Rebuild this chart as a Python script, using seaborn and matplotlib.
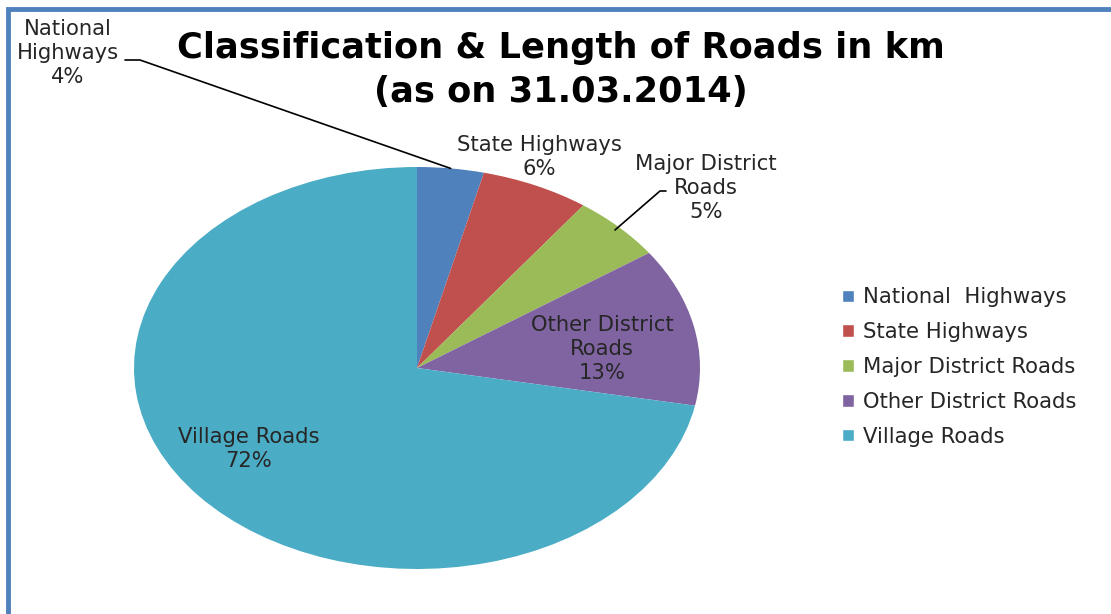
import matplotlib
matplotlib.use("Agg")
import numpy as np
import matplotlib.pyplot as plt
import seaborn as sns
from matplotlib.patches import Rectangle

# data (shares in %)
categories = ["National  Highways", "State Highways", "Major District Roads",
              "Other District Roads", "Village Roads"]
shares = [3.8, 6.2, 5.3, 12.7, 72.0]
pct_labels = ["4%", "6%", "5%", "13%", "72%"]
slice_names = ["National\nHighways", "State Highways", "Major District\nRoads",
               "Other District\nRoads", "Village Roads"]
colors = ["#4F81BD", "#C0504D", "#9BBB59", "#8064A2", "#4BACC6"]

sns.set_style("white")
plt.rcParams["font.family"] = ["DejaVu Sans"]

fig = plt.figure(figsize=(11.11, 6.14), dpi=100)
fig.patch.set_facecolor("white")

# blue frame (only top and left visible)
fig.patches.append(Rectangle((7.5 / 1111, -0.2), 1.3, 1.2 - 9.5 / 614,
                             transform=fig.transFigure, fill=False,
                             edgecolor="#4F81BD", linewidth=3.5, zorder=0))

# pie axes stretched horizontally like the original
ax = fig.add_axes([134 / 1111, 45 / 614, 566 / 1111, 402 / 614])
wedges, _ = ax.pie(shares, colors=colors, startangle=90, counterclock=False,
                   wedgeprops=dict(linewidth=0))
ax.set_aspect("auto")
ax.set_xlim(-1, 1)
ax.set_ylim(-1, 1)
ax.axis("off")


def px(x, y):
    return ((x - 417) / 283, (368 - y) / 201)


txt = dict(fontsize=15.2, color="#262626", ha="center", va="center",
           linespacing=1.24, clip_on=False)

label_pos = [px(68, 53), px(539, 157), px(706, 188), px(602, 349), px(249, 449)]
for name, pct, (lx, ly) in zip(slice_names, pct_labels, label_pos):
    ax.text(lx, ly, f"{name}\n{pct}", **txt)

# leader lines
for i, knee, end, r in [(0, px(140, 60), px(125, 60), 1.0),
                        (2, px(660, 191), px(666, 191), 0.98)]:
    w = wedges[i]
    a = np.deg2rad((w.theta1 + w.theta2) / 2)
    pts = [end, knee, (r * np.cos(a), r * np.sin(a))]
    ax.plot([p[0] for p in pts], [p[1] for p in pts], color="black",
            linewidth=1.2, clip_on=False)

fig.text(560.5 / 1111, 1 - 70 / 614,
         "Classification & Length of Roads in km\n(as on 31.03.2014)",
         ha="center", va="center", fontsize=25.4, fontweight="bold",
         color="black", linespacing=1.37)

handles = [Rectangle((0, 0), 1, 1, facecolor=c) for c in colors]
fig.legend(handles, categories, loc="center left",
           bbox_to_anchor=(823 / 1111, 1 - 367 / 614), frameon=False,
           fontsize=15.2, handlelength=0.55, handleheight=0.55,
           handletextpad=0.45, labelspacing=0.7, labelcolor="#262626")

fig.savefig("out.png", dpi=100)
